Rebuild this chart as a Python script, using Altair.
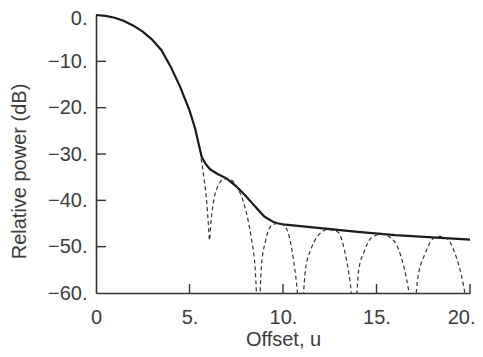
import altair as alt
import pandas as pd

# Main lobe / envelope (solid)
solid_u = [0, 0.5, 1, 1.5, 2, 2.5, 3, 3.5, 4, 4.5, 5, 5.3, 5.5, 5.65, 5.85, 6.1, 6.5, 7, 7.5, 8, 8.5, 9, 9.5, 9.7, 10, 12, 14, 16, 18, 20]
solid_db = [0, -0.2, -0.6, -1.3, -2.3, -3.6, -5.3, -7.6, -11.2, -15.5, -20.6, -24.5, -28, -30.6, -32.1, -33.3, -34.3, -35.3, -37.0, -39.0, -41.3, -43.5, -44.7, -44.95, -45.2, -46.0, -46.8, -47.5, -48.0, -48.5]

# Sidelobe pattern (dashed)
dash_u = [5.62, 5.75, 5.9, 6.0, 6.07, 6.15, 6.3, 6.56, 6.85, 7.2, 7.63, 8.0, 8.3, 8.5, 8.68,
          8.85, 9.05, 9.35, 9.7, 10.05, 10.4, 10.7, 10.95, 11.2, 11.5, 11.8, 12.4, 12.95, 13.3,
          13.6, 13.82, 14.05, 14.35, 14.7, 15.25, 15.8, 16.3, 16.7, 16.95, 17.2, 17.6, 18.05,
          18.4, 18.75, 19.2, 19.65, 19.95]
dash_db = [-31.0, -34.5, -39.5, -44.5, -48.6, -44.5, -40.0, -36.6, -35.4, -35.6, -37.8, -42.0, -48.0, -54.0, -66.0,
           -54.0, -49.0, -45.6, -45.0, -45.4, -49.0, -57.0, -66.0, -55.0, -50.5, -48.0, -46.3, -46.9, -51.0,
           -58.0, -66.0, -55.0, -51.0, -48.2, -47.3, -48.2, -52.0, -59.0, -66.0, -57.0, -51.5, -48.2,
           -47.8, -48.2, -51.5, -58.3, -66.0]

x_ticks = [0, 5, 10, 15, 20]
y_ticks = [-60, -50, -40, -30, -20, -10, 0]
x_inner_ticks = [5, 10, 15, 20]
y_inner_ticks = [-50, -40, -30, -20, -10]

W, H = 374, 278
FONT = "Liberation Sans"
TXT = "#3c3c3c"
AX = "#333333"
FS = 20

solid_df = pd.DataFrame({"u": solid_u, "db": solid_db})
dash_df = pd.DataFrame({"u": dash_u, "db": dash_db})

xscale = alt.Scale(domain=[0, 20], nice=False, zero=False)
yscale = alt.Scale(domain=[-60, 0], nice=False, zero=False)

xaxis = alt.Axis(
    values=x_ticks, ticks=False, grid=False, domainColor=AX, domainWidth=1.6,
    labelFont=FONT, labelFontSize=FS, labelColor=TXT, labelPadding=30,
    labelBaseline="alphabetic", labelFlush=False,
    labelAlign=alt.ConditionalAxisLabelAlign(
        condition={"test": "datum.value == 20", "value": "right"}, value="center"),
    labelOffset=alt.ConditionalAxisNumber(
        condition={"test": "datum.value == 20", "value": 5}, value=0),
    labelExpr="datum.value == 0 ? '0' : datum.value + '.'",
    title="Offset, u", titleFont=FONT, titleFontSize=FS, titleColor=TXT,
    titleFontWeight="normal", titleBaseline="alphabetic", titleX=W / 2, titleY=52,
)
yaxis = alt.Axis(
    values=y_ticks, ticks=False, grid=False, domainColor=AX, domainWidth=1.6,
    labelFont=FONT, labelFontSize=FS, labelColor=TXT, labelPadding=9,
    labelFlush=False,
    labelOffset=alt.ConditionalAxisNumber(
        condition={"test": "datum.value == 0", "value": 3}, value=0),
    labelExpr="datum.value == 0 ? '0.' : '\u2212' + abs(datum.value) + '.'",
    title="Relative power (dB)", titleFont=FONT, titleFontSize=FS, titleColor=TXT,
    titleFontWeight="normal", titleBaseline="alphabetic", titleX=-71, titleY=156,
    titleAlign="center",
)

solid = alt.Chart(solid_df).mark_line(color="#1a1a1a", strokeWidth=2.2).encode(
    x=alt.X("u:Q", scale=xscale, axis=xaxis),
    y=alt.Y("db:Q", scale=yscale, axis=yaxis),
)
dashed = alt.Chart(dash_df).mark_line(
    color="#333333", strokeWidth=1.2, strokeDash=[4, 3], interpolate="monotone", clip=True
).encode(x="u:Q", y="db:Q")

xt = alt.Chart(pd.DataFrame({"t": x_inner_ticks})).mark_rule(color=AX, strokeWidth=1.4).encode(
    x="t:Q", y=alt.value(H), y2=alt.value(H - 9)
)
yt = alt.Chart(pd.DataFrame({"t": y_inner_ticks})).mark_rule(color=AX, strokeWidth=1.4).encode(
    y="t:Q", x=alt.value(0), x2=alt.value(10)
)

chart = alt.layer(solid, dashed, xt, yt).properties(
    width=W, height=H,
    autosize=alt.AutoSizeParams(type="none"),
    padding={"left": 88, "top": 7, "right": 5, "bottom": 56},
    background="white",
).configure_view(stroke=None)

chart.save("out.html", embed_options={"renderer": "svg", "actions": False})
